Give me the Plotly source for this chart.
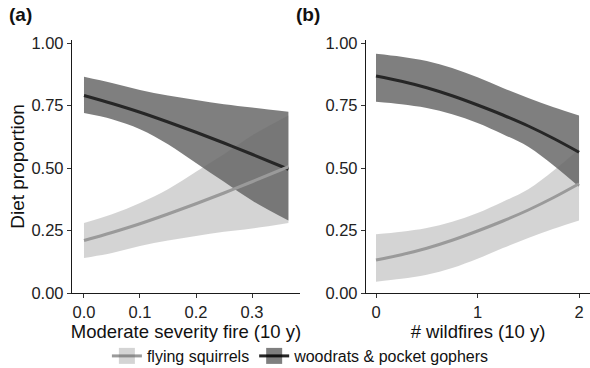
import plotly.graph_objects as go

# ---- data ----
xa = [0.0, 0.05, 0.1, 0.15, 0.2, 0.25, 0.3, 0.365]
a_dark_mean = [0.79, 0.758, 0.723, 0.684, 0.643, 0.60, 0.555, 0.495]
a_dark_lo = [0.72, 0.695, 0.655, 0.595, 0.52, 0.445, 0.37, 0.29]
a_dark_hi = [0.865, 0.84, 0.812, 0.79, 0.772, 0.755, 0.742, 0.725]
a_light_mean = [0.21, 0.242, 0.277, 0.316, 0.357, 0.40, 0.445, 0.505]
a_light_lo = [0.14, 0.16, 0.188, 0.21, 0.228, 0.245, 0.258, 0.28]
a_light_hi = [0.28, 0.315, 0.36, 0.415, 0.485, 0.555, 0.63, 0.71]

xb = [0.0, 0.25, 0.5, 0.75, 1.0, 1.25, 1.5, 1.75, 2.0]
b_dark_mean = [0.868, 0.847, 0.821, 0.789, 0.752, 0.712, 0.668, 0.618, 0.563]
b_dark_hi = [0.957, 0.945, 0.928, 0.9, 0.863, 0.82, 0.78, 0.743, 0.71]
b_dark_lo = [0.765, 0.755, 0.74, 0.715, 0.68, 0.635, 0.585, 0.51, 0.425]
b_light_mean = [0.132, 0.153, 0.179, 0.211, 0.248, 0.288, 0.332, 0.382, 0.437]
b_light_lo = [0.045, 0.057, 0.073, 0.1, 0.137, 0.18, 0.22, 0.257, 0.29]
b_light_hi = [0.235, 0.245, 0.26, 0.285, 0.32, 0.365, 0.415, 0.49, 0.575]

series_names = ["flying squirrels", "woodrats & pocket gophers"]
y_ticks = [0, 0.25, 0.5, 0.75, 1.0]
y_tick_text = ["0.00", "0.25", "0.50", "0.75", "1.00"]
xa_ticks = [0.0, 0.1, 0.2, 0.3]
xa_tick_text = ["0.0", "0.1", "0.2", "0.3"]
xb_ticks = [0, 1, 2]
xb_tick_text = ["0", "1", "2"]

# ---- styles ----
DARK_FILL = "rgba(0,0,0,0.5)"
LIGHT_FILL = "rgba(100,100,100,0.28)"
DARK_LINE = "#262626"
LIGHT_LINE = "#9a9a9a"
FONT = "Liberation Sans, Arial, sans-serif"

fig = go.Figure()


def add_band(x, lo, hi, fill, xa_, ya_):
    fig.add_trace(go.Scatter(x=x, y=hi, mode="lines", line=dict(width=0, shape="spline"),
                             showlegend=False, hoverinfo="skip", xaxis=xa_, yaxis=ya_))
    fig.add_trace(go.Scatter(x=x, y=lo, mode="lines", line=dict(width=0, shape="spline"),
                             fill="tonexty", fillcolor=fill,
                             showlegend=False, hoverinfo="skip", xaxis=xa_, yaxis=ya_))


def add_line(x, y, color, xa_, ya_):
    fig.add_trace(go.Scatter(x=x, y=y, mode="lines",
                             line=dict(color=color, width=3, shape="spline"),
                             showlegend=False, xaxis=xa_, yaxis=ya_))


for (xs, dlo, dhi, llo, lhi, dm, lm, xa_, ya_) in [
    (xa, a_dark_lo, a_dark_hi, a_light_lo, a_light_hi, a_dark_mean, a_light_mean, "x", "y"),
    (xb, b_dark_lo, b_dark_hi, b_light_lo, b_light_hi, b_dark_mean, b_light_mean, "x2", "y2"),
]:
    add_band(xs, dlo, dhi, DARK_FILL, xa_, ya_)
    add_band(xs, llo, lhi, LIGHT_FILL, xa_, ya_)
    add_line(xs, dm, DARK_LINE, xa_, ya_)
    add_line(xs, lm, LIGHT_LINE, xa_, ya_)

# legend entries
for name, fillc, linec in [(series_names[0], LIGHT_FILL, LIGHT_LINE),
                           (series_names[1], DARK_FILL, DARK_LINE)]:
    fig.add_trace(go.Scatter(x=[None], y=[None], mode="lines+markers", name=name,
                             line=dict(color=linec, width=3),
                             marker=dict(symbol="square", size=20, color=fillc,
                                         line=dict(width=0)),
                             xaxis="x", yaxis="y"))

axis_common = dict(showline=True, linecolor="#1a1a1a", linewidth=1.3, ticks="outside",
                   ticklen=4, tickwidth=1.1, tickcolor="#333333", showgrid=False,
                   zeroline=False, tickfont=dict(size=16.5, color="#222222", family=FONT),
                   mirror=False, ticklabeloverflow="allow", automargin=False)

H = 368.0
W = 590.0
y_dom = [(H - 293) / H, (H - 40) / H]

fig.update_layout(
    width=590, height=368,
    margin=dict(l=0, r=0, t=0, b=0, autoexpand=False),
    paper_bgcolor="white", plot_bgcolor="white",
    font=dict(family=FONT, color="#111111"),
    xaxis=dict(domain=[72 / W, 300 / W], range=[-0.0214, 0.3857], tickvals=xa_ticks,
               ticktext=xa_tick_text, anchor="y",
               title=dict(text="Moderate severity fire (10 y)", font=dict(size=18.5), standoff=3),
               **axis_common),
    yaxis=dict(domain=y_dom, range=[0, 1.012], tickvals=y_ticks, ticktext=y_tick_text,
               anchor="x",
               title=dict(text="Diet proportion", font=dict(size=19), standoff=1),
               **axis_common),
    xaxis2=dict(domain=[366 / W, 1.0], range=[-0.0985, 2.108], tickvals=xb_ticks,
                ticktext=xb_tick_text, anchor="y2",
                title=dict(text="# wildfires (10 y)", font=dict(size=18.5), standoff=3),
                **axis_common),
    yaxis2=dict(domain=y_dom, range=[0, 1.012], tickvals=y_ticks, ticktext=y_tick_text,
                anchor="x2", **axis_common),
    legend=dict(orientation="h", x=0.51, xanchor="center", y=(H - 356) / H, yanchor="middle",
                font=dict(size=16, color="#111111"), itemwidth=30, tracegroupgap=0,
                traceorder="normal", bgcolor="rgba(0,0,0,0)"),
    annotations=[
        dict(text="<b>(a)</b>", x=7 / W, y=1 - 14 / H, xref="paper", yref="paper",
             xanchor="left", yanchor="middle", showarrow=False, font=dict(size=19)),
        dict(text="<b>(b)</b>", x=294 / W, y=1 - 14 / H, xref="paper", yref="paper",
             xanchor="left", yanchor="middle", showarrow=False, font=dict(size=19)),
    ],
)

fig.write_html("out.html", config={"displayModeBar": False},
               post_script="document.body.style.margin='0';document.body.style.overflow='hidden';")
